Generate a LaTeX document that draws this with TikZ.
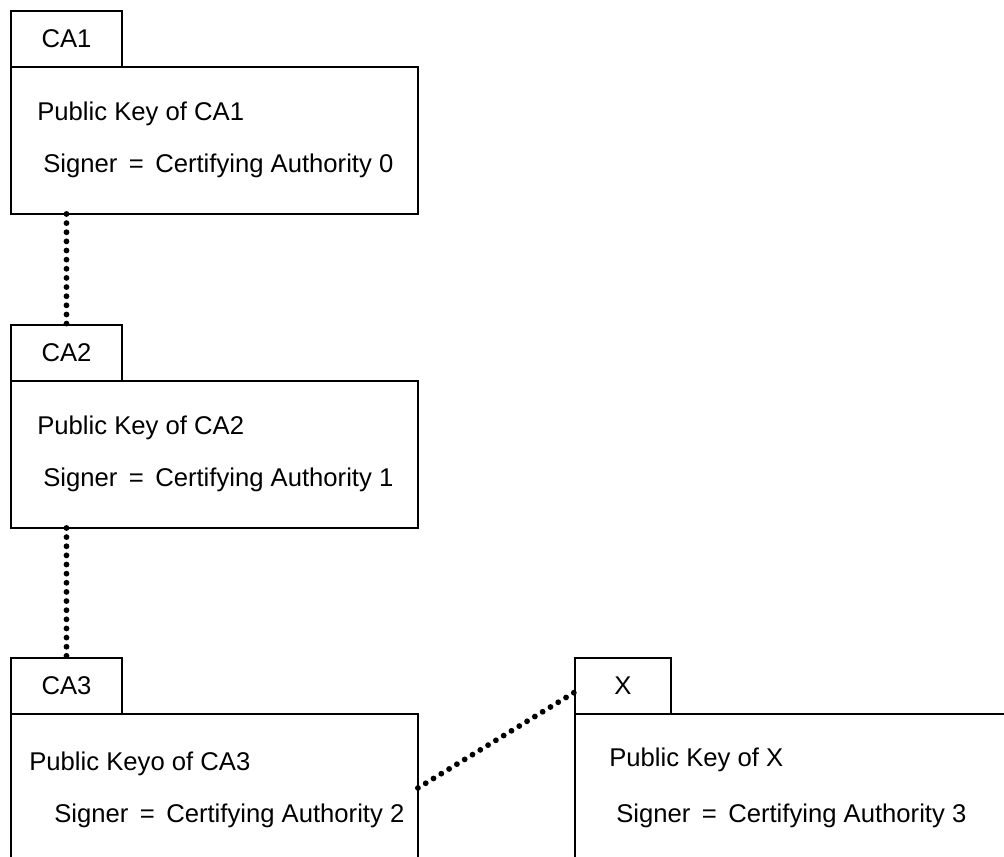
\documentclass[tikz,border=0pt]{standalone}
\usepackage{fontspec}
\setmainfont{Liberation Sans}
\usetikzlibrary{positioning}

\begin{document}
\begin{tikzpicture}[
  x=0.02cm, y=-0.02cm,
  every node/.style={font=\fontsize{14.6}{18}\selectfont},
  certbox/.style={draw, line width=0.9pt, outer sep=0pt, inner sep=0pt, minimum width=8.14cm, minimum height=2.94cm},
  tabbox/.style={draw, line width=0.9pt, outer sep=0pt, inner sep=0pt, minimum width=2.22cm, minimum height=1.12cm},
  linetext/.style={anchor=base west, inner sep=0pt},
  chain/.style={line width=3.3pt, line cap=round, dash pattern=on 0pt off 5.2pt}
]
\clip (0,0) rectangle (1004,857);

% certificate boxes
\node[certbox, anchor=north west] (ca1body) at (11,67) {};
\node[tabbox, above right=0pt and 0pt of ca1body.north west] (ca1tab) {CA1};
\node[certbox, anchor=north west] (ca2body) at (11,381) {};
\node[tabbox, above right=0pt and 0pt of ca2body.north west] (ca2tab) {CA2};
\node[certbox, anchor=north west, minimum height=3.5cm] (ca3body) at (11,714) {};
\node[tabbox, above right=0pt and 0pt of ca3body.north west] (ca3tab) {CA3};
\node[certbox, anchor=north west, minimum width=9cm, minimum height=3.5cm] (xbody) at (575,714) {};
\node[tabbox, minimum width=1.92cm, above right=0pt and 0pt of xbody.north west] (xtab) {X};

% texts
\node[linetext] (ca1key) at (37,121) {Public Key of CA1};
\node[linetext] (ca1sig) at (43,173) {Signer \,=\, Certifying Authority 0};
\node[linetext] (ca2key) at (37,435) {Public Key of CA2};
\node[linetext] (ca2sig) at (43,487) {Signer \,=\, Certifying Authority 1};
\node[linetext] (ca3key) at (29,770) {Public Keyo of CA3};
\node[linetext] (ca3sig) at (54,822) {Signer \,=\, Certifying Authority 2};
\node[linetext] (xkey) at (609,766) {Public Key of X};
\node[linetext] (xsig) at (616,822) {Signer \,=\, Certifying Authority 3};

% chain links
\draw[chain] (ca2tab.north |- ca1body.south) -- (ca2tab.north);
\draw[chain] (ca3tab.north |- ca2body.south) -- (ca3tab.north);
\draw[chain] ([yshift=-1.48cm]ca3body.north east) -- ([yshift=0.44cm]xtab.south west);

\end{tikzpicture}
\end{document}
